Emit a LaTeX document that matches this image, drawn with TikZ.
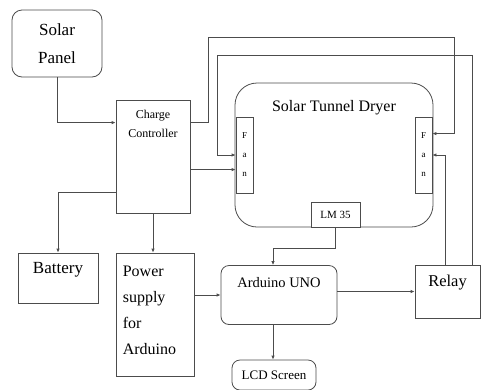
\documentclass[tikz,border=0pt]{standalone}
\usepackage{fontspec}
\setmainfont{Liberation Serif}
\usetikzlibrary{arrows.meta, positioning}

\begin{document}
\begin{tikzpicture}[x=1pt, y=-1pt, >={Latex[length=4pt,width=3.5pt]}]
	\tikzstyle{box} = [draw=black!70, line width=0.8pt, rectangle, inner sep=0pt, fill=white]
	\tikzstyle{rbox} = [box, rounded corners=8pt]
	\tikzstyle{arrow} = [draw=black!70, line width=0.8pt, ->]
	\tikzstyle{intext} = [anchor=center, align=center, inner sep=0pt]

	\useasboundingbox (0,0) rectangle (481,389);

	% boxes
	\node[rbox, rounded corners=10pt, minimum width=90pt, minimum height=67pt, align=center, font=\fontsize{17}{28}\selectfont] at (57,43.5) (sp) {Solar\\Panel};
	\node[box, minimum width=74pt, minimum height=113pt, label={[intext, yshift=-24.5pt, font=\fontsize{12}{19}\selectfont]north:Charge\\Controller}] at (153,156.5) (cc) {};
	\node[rbox, rounded corners=22pt, minimum width=198pt, minimum height=144pt, label={[intext, yshift=-25pt, font=\fontsize{16}{20}\selectfont]north:Solar Tunnel Dryer}] at (334,155) (dr) {};
	\node[box, minimum width=17pt, minimum height=76pt, align=center, font=\fontsize{9}{19}\selectfont] at (244.5,155) (lf) {F\\a\\n};
	\node[box, minimum width=17pt, minimum height=76pt, align=center, font=\fontsize{9}{19}\selectfont] at (423.5,155) (rf) {F\\a\\n};
	\node[box, minimum width=49pt, minimum height=25pt, font=\fontsize{11}{13}\selectfont] at (335.5,214.5) (lm) {LM 35};
	\node[box, minimum width=80pt, minimum height=50pt, label={[intext, yshift=-17pt, font=\fontsize{17}{20}\selectfont]north:Battery}] at (58,278) (bat) {};
	\node[box, minimum width=78pt, minimum height=123pt, label={[anchor=west, align=left, inner sep=0pt, xshift=7pt, yshift=-58pt, font=\fontsize{16}{26}\selectfont]north west:Power\\supply\\for\\Arduino}] at (155,314.5) (ps) {};
	\node[rbox, minimum width=116pt, minimum height=59pt, label={[intext, yshift=-17pt, font=\fontsize{14.5}{18}\selectfont]north:Arduino UNO}] at (279,295) (ard) {};
	\node[box, minimum width=65pt, minimum height=53pt, label={[intext, yshift=-18pt, font=\fontsize{16.5}{20}\selectfont]north:Relay}] at (447.5,291.5) (rl) {};
	\node[rbox, minimum width=84pt, minimum height=30pt, font=\fontsize{13}{16}\selectfont] at (274,375) (lcd) {LCD Screen};

	% connectors
	\draw[arrow] (sp.south) |- ([yshift=-23pt]cc.north west);
	\draw[arrow] ([yshift=-23pt]cc.north east) -- ++(18,0) |- (454,37) |- ([yshift=-17pt]rf.north east);
	\draw[arrow] ([xshift=-8pt]rl.north east) |- (217,55) |- (lf.west);
	\draw[arrow] ([yshift=-70pt]cc.north east) -- ([yshift=-70pt]cc.north east -| lf.west);
	\draw[arrow] ([xshift=-35pt]rl.north east) |- (rf.east);
	\draw[arrow] ([yshift=-93pt]cc.north west) -| (bat.north);
	\draw[arrow] (cc.south) -- (cc.south |- ps.north);
	\draw[arrow] (ps.east |- ard.west) -- (ard.west);
	\draw[arrow] (lm.south) -- ++(0,21) -| ([xshift=-6pt]ard.north);
	\draw[arrow] (ard.east |- rl.west) -- (rl.west);
	\draw[arrow] ([xshift=-6pt]ard.south) -- ([xshift=-6pt]ard.south |- lcd.north);
\end{tikzpicture}
\end{document}
